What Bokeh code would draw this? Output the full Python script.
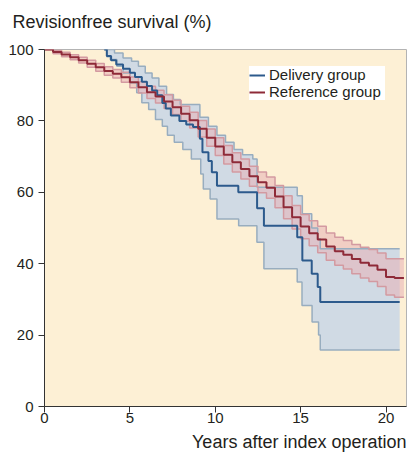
import numpy as np
from bokeh.plotting import figure
from bokeh.models import Range1d, Legend, LegendItem, FixedTicker, Title
from bokeh.embed import file_html
from bokeh.resources import INLINE

# ---------------- data ----------------
title_text = "Revisionfree survival (%)"
x_label = "Years after index operation"
series_names = ["Delivery group", "Reference group"]
x_ticks = [0, 5, 10, 15, 20]
y_ticks = [0, 20, 40, 60, 80, 100]

# Reference group (Kaplan-Meier, with 95% CI)
ref_t = [0, 0.5, 1, 1.5, 2, 2.5, 3, 3.5, 4, 4.5, 5, 5.5, 6, 6.5, 7, 7.5, 8, 8.5,
         9, 9.5, 10, 10.5, 11, 11.5, 12, 12.5, 13, 13.5, 14, 14.5, 15, 15.5, 16,
         16.5, 17, 17.5, 18, 18.5, 19, 19.5, 20, 20.5]
ref_s = [100, 99.3, 98.6, 97.8, 97.0, 96.0, 95.0, 94.0, 93.2, 92.2, 90.8, 89.4,
         88.0, 86.8, 85.4, 83.8, 82.0, 80.2, 77.8, 75.3, 72.8, 70.5, 68.4, 66.5,
         64.5, 62.8, 61.3, 58.8, 55.8, 53.0, 50.4, 48.5, 46.8, 44.8, 43.5, 42.5,
         41.3, 40.3, 39.5, 38.3, 36.3, 36.0]
ref_hi = [100, 99.8, 99.2, 98.5, 97.8, 97.0, 96.1, 95.2, 94.4, 93.6, 92.3, 91.0,
          89.7, 88.6, 87.3, 85.8, 84.1, 82.4, 80.1, 77.7, 75.3, 73.1, 71.1, 69.3,
          67.3, 65.7, 64.3, 61.9, 59.0, 56.3, 53.8, 52.0, 50.5, 48.6, 47.4, 46.5,
          45.4, 44.6, 44.0, 43.0, 41.4, 41.4]
ref_lo = [100, 98.8, 98.0, 97.1, 96.2, 95.0, 93.9, 92.8, 92.0, 90.8, 89.3, 87.8,
          86.3, 85.0, 83.5, 81.8, 79.9, 78.0, 75.5, 72.9, 70.3, 67.9, 65.7, 63.7,
          61.7, 59.9, 58.3, 55.7, 52.6, 49.7, 47.0, 45.0, 43.1, 41.0, 39.6, 38.5,
          37.2, 36.0, 35.0, 33.6, 31.2, 30.6]
ref_end = 21.05

# Delivery group (Kaplan-Meier, with 95% CI)
del_t = [3.5, 3.65, 3.9, 4.2, 4.6, 5.0, 5.3, 5.7, 6.0, 6.3, 6.6, 6.9, 7.1, 7.4,
         7.9, 8.3, 8.7, 9.1, 9.25, 9.6, 9.8, 10.1, 11.35, 12.45, 12.85, 14.8,
         15.1, 15.65, 16.0, 16.15]
del_s = [100, 98.2, 97.0, 95.8, 94.6, 93.5, 92.3, 91.0, 89.8, 88.5, 87.2, 85.0,
         83.5, 81.5, 80.0, 79.0, 78.3, 75.0, 71.2, 68.8, 65.6, 61.8, 60.0, 55.5,
         50.6, 47.4, 40.9, 37.2, 33.5, 29.3]
del_hi_t = [3.5, 4.1, 4.6, 5.1, 5.5, 5.9, 6.3, 6.7, 7.15, 7.55, 7.95, 9.1, 9.6,
            10.1, 10.6, 11.1, 11.6, 12.2, 12.45, 14.8, 15.1, 15.65, 16.0, 16.15]
del_hi = [100, 99.0, 97.6, 96.7, 95.3, 93.4, 92.0, 89.7, 87.4, 86.0, 84.6, 81.0,
          78.5, 76.0, 74.0, 72.0, 70.5, 69.3, 61.4, 59.0, 54.0, 50.0, 47.0, 44.2]
del_lo_t = [3.5, 3.65, 3.85, 4.24, 4.6, 5.0, 5.4, 5.7, 6.1, 6.5, 6.9, 7.2, 7.6,
            8.1, 8.6, 9.15, 9.3, 9.7, 10.1, 11.37, 12.44, 12.85, 14.8, 15.08,
            15.67, 16.05, 16.15]
del_lo = [100, 98.0, 97.2, 95.3, 93.4, 90.7, 87.9, 85.1, 83.2, 80.4, 78.5, 76.0,
          74.0, 72.0, 69.3, 65.1, 60.9, 58.1, 52.5, 50.6, 46.0, 38.6, 34.9, 28.3,
          23.7, 20.0, 15.8]
del_end = 20.8

# ---------------- styling ----------------
FONT = "Liberation Sans"
TXT = "#231f20"
CREAM = "#fdf0d5"
BLUE = "#2c5a8c"
BLUE_FILL = "#d0dae4"
BLUE_EDGE = "#98adbf"
RED = "#8e2a38"
RED_FILL = "#e8b2b7"
RED_EDGE = "#d39aa1"


def step_xy(t, v, end):
    xs, ys = [], []
    for i in range(len(t)):
        nxt = t[i + 1] if i + 1 < len(t) else end
        xs += [t[i], nxt]
        ys += [v[i], v[i]]
    return xs, ys


p = figure(width=407, height=455, output_backend="svg", toolbar_location=None,
           title=None,
           x_range=Range1d(0, 21.2), y_range=Range1d(0, 100),
           min_border_left=44, min_border_right=1, min_border_top=49,
           min_border_bottom=47)

p.background_fill_color = CREAM
p.border_fill_color = "white"
p.outline_line_color = "#b3b3b3"
p.outline_line_width = 1
p.xgrid.visible = False
p.ygrid.visible = False

# blue CI band
hx, hy = step_xy(del_hi_t, del_hi, del_end)
lx, ly = step_xy(del_lo_t, del_lo, del_end)
p.patch(hx + lx[::-1], hy + ly[::-1], fill_color=BLUE_FILL, line_color=None)

# red CI band
rhx, rhy = step_xy(ref_t, ref_hi, ref_end)
rlx, rly = step_xy(ref_t, ref_lo, ref_end)
p.patch(rhx + rlx[::-1], rhy + rly[::-1], fill_color=RED_FILL, fill_alpha=0.55,
        line_color=None)

# band edges
p.line(hx, hy, line_color=BLUE_EDGE, line_width=1.5)
p.line(lx, ly, line_color=BLUE_EDGE, line_width=1.5)
p.line(rhx, rhy, line_color=RED_EDGE, line_width=1.5)
p.line(rlx, rly, line_color=RED_EDGE, line_width=1.5)

# survival curves
dx, dy = step_xy(del_t, del_s, del_end)
blue_r = p.line(dx, dy, line_color=BLUE, line_width=2)
rx, ry = step_xy(ref_t, ref_s, ref_end)
red_r = p.line(rx, ry, line_color=RED, line_width=2)

# axes
for ax in (p.xaxis[0], p.yaxis[0]):
    ax.axis_line_color = "#333333"
    ax.axis_line_width = 1
    ax.major_tick_line_color = "#333333"
    ax.major_tick_out = 6
    ax.major_tick_in = 0
    ax.minor_tick_line_color = None
    ax.major_label_text_font = FONT
    ax.major_label_text_font_size = "15px"
    ax.major_label_text_color = TXT

p.xaxis.ticker = FixedTicker(ticks=x_ticks)
p.yaxis.ticker = FixedTicker(ticks=y_ticks)
p.xaxis.major_label_standoff = 0
p.yaxis.major_label_standoff = 5

# x-axis title, right aligned under the axis
p.add_layout(Title(text=x_label, align="right", text_font=FONT,
                   text_font_size="18px", text_font_style="normal",
                   text_color=TXT, standoff=8), "below")

# chart title: a thin spacer next to the frame, then the title above it
p.add_layout(Title(text=" ", text_font_size="1px", standoff=15), "above")
p.add_layout(Title(text=title_text, align="left", offset=-32, text_font=FONT,
                   text_font_size="18px", text_font_style="normal",
                   text_color=TXT, standoff=0, vertical_align="bottom"),
             "above")

# legend
legend = Legend(items=[LegendItem(label=series_names[0], renderers=[blue_r]),
                       LegendItem(label=series_names[1], renderers=[red_r])],
                location=(205, 306))
legend.margin = 0
legend.padding = 6
legend.spacing = 0
legend.label_height = 16
legend.glyph_height = 16
legend.glyph_width = 16
legend.label_width = 116
legend.label_standoff = 4
legend.label_text_font = FONT
legend.label_text_font_size = "15px"
legend.label_text_color = TXT
legend.background_fill_color = "white"
legend.background_fill_alpha = 1.0
legend.border_line_color = None
p.add_layout(legend)

open("out.html", "w").write(file_html(p, INLINE))
